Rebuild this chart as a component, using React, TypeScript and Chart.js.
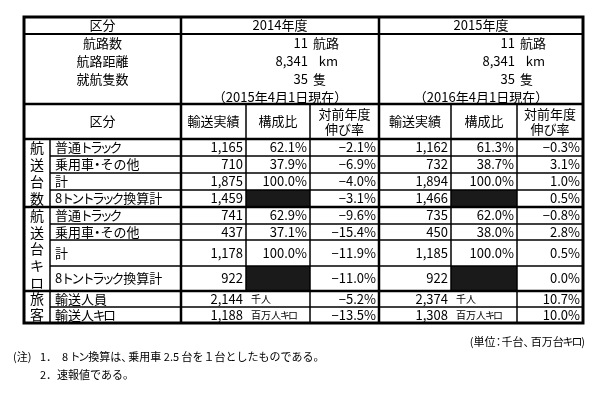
import React, { useEffect, useRef } from "react";
import { Chart, registerables } from "chart.js";

Chart.register(...registerables);

// ---------- data ----------
const headerLabel = "区分";
const yearLabels = ["2014年度", "2015年度"];
const asOfLabels = ["（2015年4月1日現在）", "（2016年4月1日現在）"];
const routeLabels = ["航路数", "航路距離", "就航隻数"];
const routeUnits = ["航路", "  km", "隻"];
const routeValues2014 = [11, 8341, 35];
const routeValues2015 = [11, 8341, 35];
const columnHeaders = [["輸送実績"], ["構成比"], ["対前年度", "伸び率"]];
const groupLabels = ["航送台数", "航送台キロ", "旅客"];
const vehicleCategories = ["普通トラック", "乗用車・その他", "計", "8トントラック換算計"];

const units2014 = [1165, 710, 1875, 1459];
const unitsShare2014 = [62.1, 37.9, 100.0, null];
const unitsGrowth2014 = [-2.1, -6.9, -4.0, -3.1];
const units2015 = [1162, 732, 1894, 1466];
const unitsShare2015 = [61.3, 38.7, 100.0, null];
const unitsGrowth2015 = [-0.3, 3.1, 1.0, 0.5];

const km2014 = [741, 437, 1178, 922];
const kmShare2014 = [62.9, 37.1, 100.0, null];
const kmGrowth2014 = [-9.6, -15.4, -11.9, -11.0];
const km2015 = [735, 450, 1185, 922];
const kmShare2015 = [62.0, 38.0, 100.0, null];
const kmGrowth2015 = [-0.8, 2.8, 0.5, 0.0];

const passengerCategories = ["輸送人員", "輸送人キロ"];
const passengerUnits = ["千人", "百万人キロ"];
const passengers2014 = [2144, 1188];
const passengerGrowth2014 = [-5.2, -13.5];
const passengers2015 = [2374, 1308];
const passengerGrowth2015 = [10.7, 10.0];

const unitNote = "(単位：千台、百万台キロ)";
const noteHead = "(注)";
const notes = ["1．  8 トン換算は、乗用車 2.5 台を１台としたものである。", "2．速報値である。"];

// ---------- layout (grid edges in scale units) ----------
const COL = [24, 50, 181, 246, 310, 379, 451, 517, 583];
const ROW = [17, 34, 104, 139, 156, 173, 190, 207, 224, 240, 266, 291, 307, 323];
const INFO_LINES = [43, 61, 79, 97];

const FONT = '"Noto Sans CJK JP", "Noto Sans", sans-serif';

const fmtInt = (v: number) => v.toLocaleString("en-US");
const fmtPct = (v: number) => (v < 0 ? "−" + Math.abs(v).toFixed(1) : v.toFixed(1)) + "%";

// advance factor and whether the glyph is centred in its em box
const narrowFactor = (ch: string): [number, boolean] => {
  if (/[ッャュョァィゥェォ]/.test(ch)) return [0.7, true];
  if (ch === "・") return [0.5, true];
  if (/[\u30A0-\u30FF]/.test(ch)) return [0.8, true];
  if (/[、。]/.test(ch)) return [0.65, false];
  if (ch === "：") return [0.55, true];
  return [1, true];
};

const tablePlugin = {
  id: "tablePlugin",
  afterDraw(chart: any) {
    const ctx: CanvasRenderingContext2D = chart.ctx;
    const xs = chart.scales.x;
    const ys = chart.scales.y;
    const X = (v: number) => xs.getPixelForValue(v);
    const Y = (v: number) => ys.getPixelForValue(v);
    ctx.save();
    ctx.fillStyle = "#fff";
    ctx.fillRect(0, 0, chart.width, chart.height);

    // black cells
    ctx.fillStyle = "#1a1a1a";
    const blackRows = [
      [ROW[6], ROW[7]],
      [ROW[10], ROW[11]],
    ];
    const blackCols = [
      [COL[3], COL[4]],
      [COL[6], COL[7]],
    ];
    blackRows.forEach(([r0, r1]) =>
      blackCols.forEach(([c0, c1]) => ctx.fillRect(X(c0), Y(r0), X(c1) - X(c0), Y(r1) - Y(r0)))
    );

    // lines
    ctx.strokeStyle = "#000";
    const hl = (y: number, x0: number, x1: number, w: number) => {
      ctx.lineWidth = w;
      ctx.beginPath();
      ctx.moveTo(X(x0), Y(y));
      ctx.lineTo(X(x1), Y(y));
      ctx.stroke();
    };
    const vl = (x: number, y0: number, y1: number, w: number) => {
      ctx.lineWidth = w;
      ctx.beginPath();
      ctx.moveTo(X(x), Y(y0));
      ctx.lineTo(X(x), Y(y1));
      ctx.stroke();
    };
    const L = COL[0], R = COL[8];
    const thick = 2.5, mid = 2, thin = 1.5;
    hl(ROW[1], L, R, mid);
    hl(ROW[2], L, R, thick);
    hl(ROW[3], L, R, thick);
    [4, 5, 6, 8, 9, 10, 12].forEach((i) => hl(ROW[i], COL[1], R, thin));
    hl(ROW[7], L, R, thick);
    hl(ROW[11], L, R, thick);
    vl(COL[1], ROW[3], ROW[13], thin);
    vl(COL[2], ROW[0], ROW[13], thick);
    vl(COL[5], ROW[0], ROW[13], thick);
    [3, 6].forEach((i) => vl(COL[i], ROW[2], ROW[11], thin));
    [4, 7].forEach((i) => vl(COL[i], ROW[2], ROW[13], thin));
    ctx.lineWidth = 3;
    ctx.strokeRect(X(L), Y(ROW[0]), X(R) - X(L), Y(ROW[13]) - Y(ROW[0]));

    // text
    ctx.fillStyle = "#000";
    ctx.textBaseline = "middle";
    const txt = (s: string, x: number, y: number, align: CanvasTextAlign, size = 13) => {
      ctx.font = `${size}px ${FONT}`;
      ctx.textAlign = align;
      ctx.fillText(s, X(x), Y(y));
    };
    // proportional drawing (narrow kana / punctuation), left or right aligned
    const ptxt = (s: string, x: number, y: number, size = 13, align: "left" | "right" = "left") => {
      ctx.font = `${size}px ${FONT}`;
      ctx.textAlign = "left";
      const chars = Array.from(s);
      const items = chars.map((ch) => {
        const w = ctx.measureText(ch).width;
        const [f, centred] = narrowFactor(ch);
        return { ch, w, adv: w * f, centred };
      });
      const total = items.reduce((a, b) => a + b.adv, 0);
      let cx = align === "left" ? X(x) : X(x) - total;
      items.forEach((it) => {
        const shift = it.centred ? (it.w - it.adv) / 2 : 0;
        ctx.fillText(it.ch, cx - shift, Y(y));
        cx += it.adv;
      });
    };
    const mid2 = (a: number, b: number) => (a + b) / 2;

    // header row
    txt(headerLabel, mid2(COL[0], COL[2]), mid2(ROW[0], ROW[1]), "center");
    txt(yearLabels[0], mid2(COL[2], COL[5]), mid2(ROW[0], ROW[1]), "center");
    txt(yearLabels[1], mid2(COL[5], COL[8]), mid2(ROW[0], ROW[1]), "center");

    // info block
    routeLabels.forEach((lab, i) => {
      const y = INFO_LINES[i];
      txt(lab, mid2(COL[0], COL[2]), y, "center");
      txt(fmtInt(routeValues2014[i]), COL[4] - 2, y, "right");
      txt(routeUnits[i], COL[4] + 3, y, "left");
      txt(fmtInt(routeValues2015[i]), COL[7] - 2, y, "right");
      txt(routeUnits[i], COL[7] + 3, y, "left");
    });
    txt(asOfLabels[0], mid2(COL[2], COL[5]), INFO_LINES[3], "center");
    txt(asOfLabels[1], mid2(COL[5], COL[8]), INFO_LINES[3], "center");

    // column headers
    const hy = mid2(ROW[2], ROW[3]);
    txt(headerLabel, mid2(COL[0], COL[2]), hy, "center");
    [0, 3].forEach((off) => {
      columnHeaders.forEach((lines, j) => {
        const cx = mid2(COL[2 + off + j], COL[3 + off + j]);
        if (lines.length === 1) txt(lines[0], cx, hy, "center");
        else {
          txt(lines[0], cx, hy - 7.5, "center");
          txt(lines[1], cx, hy + 7.5, "center");
        }
      });
    });

    const rowBlock = (startRow: number, cats: string[], cols: (number | null)[][]) => {
      cats.forEach((cat, i) => {
        const y = mid2(ROW[startRow + i], ROW[startRow + i + 1]);
        ptxt(cat, COL[1] + 5, y, 13);
        cols.forEach((arr, j) => {
          const v = arr[i];
          if (v === null || v === undefined) return;
          const kind = j % 3;
          const s = kind === 0 ? fmtInt(v) : fmtPct(v);
          txt(s, COL[3 + j] - 3, y, "right");
        });
      });
    };
    rowBlock(3, vehicleCategories, [
      units2014, unitsShare2014, unitsGrowth2014,
      units2015, unitsShare2015, unitsGrowth2015,
    ]);
    rowBlock(7, vehicleCategories, [
      km2014, kmShare2014, kmGrowth2014,
      km2015, kmShare2015, kmGrowth2015,
    ]);
    // passengers
    passengerCategories.forEach((cat, i) => {
      const y = mid2(ROW[11 + i], ROW[12 + i]);
      ptxt(cat, COL[1] + 5, y, 13);
      txt(fmtInt(passengers2014[i]), COL[3] - 3, y, "right");
      ptxt(passengerUnits[i], COL[3] + 5, y, 10);
      txt(fmtPct(passengerGrowth2014[i]), COL[5] - 3, y, "right");
      txt(fmtInt(passengers2015[i]), COL[6] - 3, y, "right");
      ptxt(passengerUnits[i], COL[6] + 5, y, 10);
      txt(fmtPct(passengerGrowth2015[i]), COL[8] - 3, y, "right");
    });

    // vertical group labels
    const gx = mid2(COL[0], COL[1]);
    const groupSpans = [
      [ROW[3], ROW[7]],
      [ROW[7], ROW[11]],
      [ROW[11], ROW[13]],
    ];
    groupLabels.forEach((g, gi) => {
      const [a, b] = groupSpans[gi];
      const chars = Array.from(g);
      const step = (b - a) / chars.length;
      chars.forEach((c, k) => txt(c, gx, a + step * (k + 0.5), "center", 14));
    });

    // notes
    ptxt(unitNote, 585, 342, 11, "right");
    ptxt(noteHead, 13, 357, 11);
    ptxt(notes[0], 40, 357, 11);
    ptxt(notes[1], 40, 375, 11);

    ctx.restore();
  },
};

export default function App() {
  const ref = useRef<HTMLCanvasElement | null>(null);
  useEffect(() => {
    document.body.style.margin = "0";
    const chart = new Chart(ref.current as HTMLCanvasElement, {
      type: "scatter",
      data: { datasets: [{ data: [], pointRadius: 0 }] },
      options: {
        animation: false,
        responsive: false,
        layout: { padding: 0 },
        plugins: { legend: { display: false }, tooltip: { enabled: false } },
        scales: {
          x: { type: "linear", min: 0, max: 602, display: false },
          y: { type: "linear", min: 0, max: 401, reverse: true, display: false },
        },
      },
      plugins: [tablePlugin],
    });
    return () => chart.destroy();
  }, []);
  return (
    <div style={{ position: "absolute", left: 0, top: 0, width: 602, height: 401 }}>
      <canvas ref={ref} width={602} height={401} style={{ display: "block" }} />
    </div>
  );
}
